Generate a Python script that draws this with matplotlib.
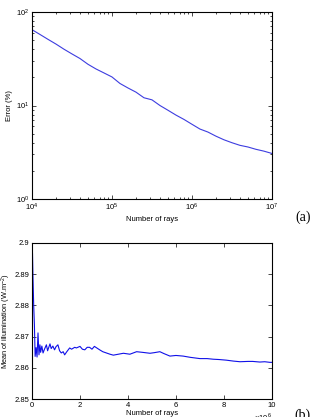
import numpy as np
import matplotlib
matplotlib.use('Agg')
import matplotlib.pyplot as plt
from matplotlib.ticker import LogLocator, NullFormatter

plt.rcParams['font.family'] = ['Liberation Sans', 'DejaVu Sans']
plt.rcParams['mathtext.fontset'] = 'custom'
plt.rcParams['mathtext.rm'] = 'Liberation Sans'

# (a) error vs number of rays (log10 of rays, error in %)
log_rays = [4.0, 4.1, 4.2, 4.3, 4.4, 4.5, 4.6, 4.7, 4.8, 4.9, 5.0, 5.1, 5.2,
            5.3, 5.4, 5.5, 5.6, 5.7, 5.8, 5.9, 6.0, 6.1, 6.2, 6.3, 6.4, 6.5,
            6.6, 6.7, 6.8, 6.9, 7.0]
error_pct = [64.7, 57.5, 51.0, 45.4, 40.0, 35.6, 31.8, 27.6, 24.6, 22.3, 20.2,
             17.2, 15.4, 13.9, 12.1, 11.5, 10.0, 8.9, 7.9, 7.1, 6.3, 5.6, 5.2,
             4.7, 4.3, 4.0, 3.75, 3.6, 3.4, 3.25, 3.07]

# (b) mean illumination vs number of rays (x in units of 1e6)
rays_b = [0.0, 0.02, 0.04, 0.07, 0.1, 0.13, 0.17, 0.21, 0.25, 0.29, 0.33, 0.36,
          0.41, 0.46, 0.52, 0.6, 0.65, 0.69, 0.75, 0.8, 0.87, 0.94, 1.0, 1.08,
          1.15, 1.22, 1.3, 1.36, 1.45, 1.57, 1.65, 1.78, 1.85, 2.0, 2.1, 2.2,
          2.3, 2.4, 2.5, 2.6, 2.7, 2.82, 2.95, 3.1, 3.25, 3.39, 3.6, 3.81,
          4.08, 4.36, 4.6, 4.92, 5.1, 5.33, 5.5, 5.75, 6.0, 6.3, 6.6, 7.0,
          7.3, 7.56, 7.8, 8.1, 8.4, 8.67, 9.0, 9.2, 9.5, 9.7, 9.92, 10.0]
illum = [2.9, 2.8965, 2.889, 2.880, 2.8738, 2.8637, 2.8665, 2.8635, 2.8712,
         2.8642, 2.8674, 2.8650, 2.8670, 2.8648, 2.8660, 2.8674, 2.8655, 2.8664,
         2.8677, 2.8662, 2.8670, 2.8658, 2.8668, 2.8674, 2.8655, 2.8648,
         2.8652, 2.8642, 2.8652, 2.8664, 2.8660, 2.8666, 2.8664, 2.8669,
         2.8660, 2.8658, 2.8666, 2.8666, 2.8660, 2.8669, 2.8664, 2.8658,
         2.8652, 2.8648, 2.8644, 2.8641, 2.8644, 2.8647, 2.8644, 2.8652,
         2.8650, 2.8647, 2.8649, 2.8652, 2.8646, 2.8638, 2.8640, 2.8638,
         2.8634, 2.8630, 2.8630, 2.8628, 2.8627, 2.8625, 2.8622, 2.8620,
         2.8621, 2.8621, 2.8619, 2.8620, 2.8618, 2.8618]

fig = plt.figure(figsize=(3.22, 4.17), dpi=100)
fs = 5.5

# ---- (a)
ax1 = fig.add_axes([0.0994, 0.5228, 0.745, 0.4484])
ax1.plot(np.power(10.0, log_rays), error_pct, color='#3d3de0', lw=0.8)
ax1.set_xscale('log')
ax1.set_yscale('log')
ax1.set_xlim(1e4, 1e7)
ax1.set_ylim(1, 100)
ax1.xaxis.set_major_locator(LogLocator(base=10, numticks=10))
ax1.yaxis.set_major_locator(LogLocator(base=10, numticks=10))
ax1.xaxis.set_minor_locator(LogLocator(base=10, subs=np.arange(2, 10), numticks=10))
ax1.yaxis.set_minor_locator(LogLocator(base=10, subs=np.arange(2, 10), numticks=10))
ax1.xaxis.set_minor_formatter(NullFormatter())
ax1.yaxis.set_minor_formatter(NullFormatter())
ax1.set_xlabel('Number of rays', fontsize=fs, labelpad=2)
ax1.set_ylabel('Error (%)', fontsize=fs, labelpad=2)
fig.text(0.965, 0.48, '(a)', family='Liberation Serif', fontsize=10, ha='right', va='center')

# ---- (b)
ax2 = fig.add_axes([0.0994, 0.0424, 0.745, 0.3756])
ax2.plot(rays_b, illum, color='#1010e8', lw=0.8)
ax2.set_xlim(0, 10)
ax2.set_ylim(2.85, 2.9)
ax2.set_xticks([0, 2, 4, 6, 8, 10])
ax2.set_yticks([2.85, 2.86, 2.87, 2.88, 2.89, 2.9])
ax2.set_yticklabels(['2.85', '2.86', '2.87', '2.88', '2.89', '2.9'])
ax2.set_xlabel('Number of rays', fontsize=fs, labelpad=1)
ax2.set_ylabel('Mean of illumination (W.m$^{-2}$)', fontsize=5.3, labelpad=1)
fig.text(0.845, 0.0, r'$\times10^{6}$', fontsize=fs, ha='right', va='center')
fig.text(0.965, 0.005, '(b)', family='Liberation Serif', fontsize=10, ha='right', va='center')

for ax in (ax1, ax2):
    ax.tick_params(which='both', direction='in', top=True, right=True,
                   labelsize=fs, width=0.5, pad=2)
    ax.tick_params(which='major', length=3)
    ax.tick_params(which='minor', length=1.5)
    for s in ax.spines.values():
        s.set_linewidth(0.8)

fig.savefig('out.png', dpi=100)
